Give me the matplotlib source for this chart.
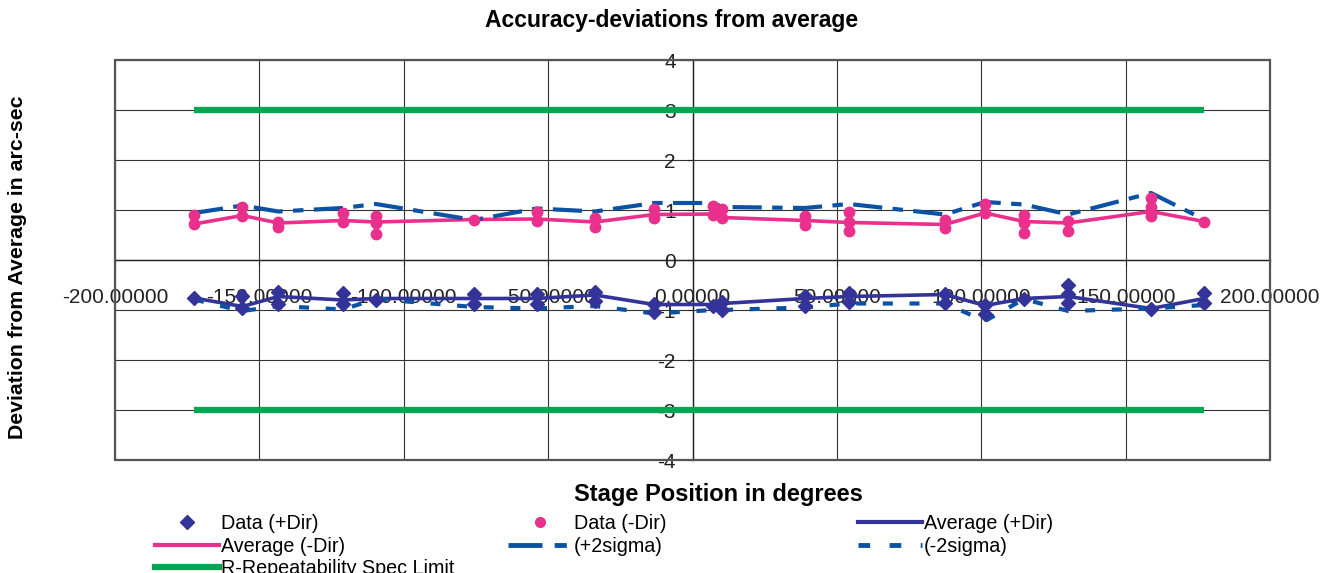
import matplotlib as mpl
mpl.use('Agg')
import matplotlib.pyplot as plt
from matplotlib.lines import Line2D
from matplotlib.patches import Rectangle

plt.rcParams['font.family'] = ['Liberation Sans', 'DejaVu Sans']

# stage positions (degrees)
positions = [-172.6, -155.9, -143.4, -121.1, -109.7, -75.7, -54.0, -33.8,
             -13.3, 7.2, 10.3, 39.0, 54.2, 87.4, 101.3, 114.8, 130.1,
             158.8, 177.2]

# raw readings per position
data_plus = [[-0.76], [-0.71, -0.95], [-0.63, -0.87], [-0.65, -0.87],
             [-0.79], [-0.67, -0.87], [-0.67, -0.87], [-0.63, -0.82],
             [-0.87, -1.03], [-0.91], [-0.83, -0.99], [-0.72, -0.91],
             [-0.65, -0.83], [-0.67, -0.85], [-0.89, -1.07], [-0.77],
             [-0.49, -0.67, -0.85], [-0.97], [-0.65, -0.85]]
data_minus = [[0.90, 0.72], [1.06, 0.89], [0.76, 0.66], [0.95, 0.77],
              [0.89, 0.75, 0.53], [0.81], [0.96, 0.79], [0.84, 0.66],
              [1.03, 0.84], [1.09, 0.91], [1.03, 0.84], [0.89, 0.71],
              [0.96, 0.77, 0.59], [0.81, 0.64], [1.13, 0.94],
              [0.91, 0.74, 0.54], [0.79, 0.59], [1.24, 1.06, 0.89], [0.77]]

avg_plus = [-0.76, -0.93, -0.73, -0.80, -0.77, -0.77, -0.77, -0.70, -0.89,
            -0.89, -0.87, -0.77, -0.73, -0.69, -0.91, -0.77, -0.73, -0.97,
            -0.77]
avg_minus = [0.72, 0.89, 0.74, 0.79, 0.76, 0.81, 0.82, 0.76, 0.91, 0.92,
             0.85, 0.79, 0.75, 0.71, 0.94, 0.77, 0.74, 0.97, 0.77]
plus_2sigma = [0.94, 1.09, 0.97, 1.04, 1.12, 0.80, 1.03, 0.97, 1.14, 1.14,
               1.06, 1.04, 1.12, 0.91, 1.16, 1.11, 0.91, 1.34, 0.81]
minus_2sigma = [-0.79, -1.02, -0.92, -0.99, -0.78, -0.94, -0.97, -0.92,
                -1.07, -1.00, -1.00, -0.95, -0.87, -0.87, -1.22, -0.78,
                -1.02, -0.97, -0.90]
spec_limit = 3.0

x_ticks = [-200, -150, -100, -50, 0, 50, 100, 150, 200]
y_ticks = [-4, -3, -2, -1, 0, 1, 2, 3, 4]

navy = '#333399'
pink = '#E8308C'
blue = '#0B52A3'
green = '#00A651'

fig = plt.figure(figsize=(13.33, 5.73), dpi=100)
ax = fig.add_axes([115 / 1333, 1 - 460 / 573, 1155 / 1333, 400 / 573])

xp, yp = [], []
for x, vals in zip(positions, data_plus):
    for v in vals:
        xp.append(x)
        yp.append(v)
xm, ym = [], []
for x, vals in zip(positions, data_minus):
    for v in vals:
        xm.append(x)
        ym.append(v)

ax.plot(positions, avg_plus, color=navy, lw=2.6, zorder=3)
ax.plot(positions, avg_minus, color=pink, lw=2.6, zorder=3)
ax.plot(positions, plus_2sigma, color=blue, lw=3, dashes=(7, 2.5, 2.5, 2.5),
        dash_capstyle='butt', zorder=3)
ax.plot(positions, minus_2sigma, color=blue, lw=3, dashes=(2.4, 4),
        dash_capstyle='butt', zorder=3)
ax.hlines([spec_limit, -spec_limit], positions[0], positions[-1],
          color=green, lw=4.5, zorder=3)
ax.plot(xp, yp, 'D', color=navy, ms=7.5, ls='none', zorder=4)
ax.plot(xm, ym, 'o', color=pink, ms=7.5, ls='none', zorder=4)

ax.set_xlim(-200, 200)
ax.set_ylim(-4, 4)
ax.set_xticks(x_ticks)
ax.set_yticks(y_ticks)
ax.set_xticklabels(['%.5f' % t for t in x_ticks])
ax.set_yticklabels([str(t) for t in y_ticks])
ax.grid(True, color='#333333', lw=0.8)
ax.set_axisbelow(True)

ax.spines['left'].set_position(('data', 0))
ax.spines['bottom'].set_position(('data', 0))
for s in ['left', 'bottom']:
    ax.spines[s].set_color('#222222')
    ax.spines[s].set_linewidth(1.0)
for s in ['top', 'right']:
    ax.spines[s].set_visible(False)
ax.add_patch(Rectangle((0, 0), 1, 1, transform=ax.transAxes, fill=False,
                       edgecolor='#555555', lw=1.6, clip_on=False, zorder=5))
ax.tick_params(axis='x', direction='out', length=4, pad=16, labelsize=15,
               colors='#222222')
ax.tick_params(axis='y', direction='out', length=4, pad=8, labelsize=15,
               colors='#222222')

fig.text(672 / 1333, 1 - 20 / 573, 'Accuracy-deviations from average',
         ha='center', va='center', fontsize=16.5, fontweight='bold')
fig.text(718 / 1333, 1 - 495 / 573, 'Stage Position in degrees',
         ha='center', va='center', fontsize=17, fontweight='bold')
fig.text(18 / 1333, 1 - 267 / 573, 'Deviation from Average in arc-sec',
         ha='center', va='center', rotation=90, fontsize=15.3,
         fontweight='bold')

h_dplus = Line2D([], [], marker='D', color=navy, ls='none', ms=7)
h_dminus = Line2D([], [], marker='o', color=pink, ls='none', ms=7)
h_aplus = Line2D([], [], color=navy, lw=3)
h_aminus = Line2D([], [], color=pink, lw=3)
h_p2 = Line2D([], [], color=blue, lw=3.5, dashes=(7, 2.5, 2.5, 2.5))
h_m2 = Line2D([], [], color=blue, lw=3.5, dashes=(2.4, 4))
h_spec = Line2D([], [], color=green, lw=4.5)

leg_kw = dict(loc='upper left', frameon=False, fontsize=14.2, borderpad=0,
              handlelength=3.25, handletextpad=0.1, labelspacing=0.18,
              numpoints=1, borderaxespad=0)
cols = [
    (155, [h_dplus, h_aminus, h_spec],
     ['Data (+Dir)', 'Average (-Dir)', 'R-Repeatability Spec Limit']),
    (508, [h_dminus, h_p2], ['Data (-Dir)', '(+2sigma)']),
    (858, [h_aplus, h_m2], ['Average (+Dir)', '(-2sigma)']),
]
for xpix, hs, ls in cols:
    fig.legend(hs, ls, bbox_to_anchor=(xpix / 1333, 1 - 514 / 573), **leg_kw)

fig.savefig('out.png', dpi=100)
